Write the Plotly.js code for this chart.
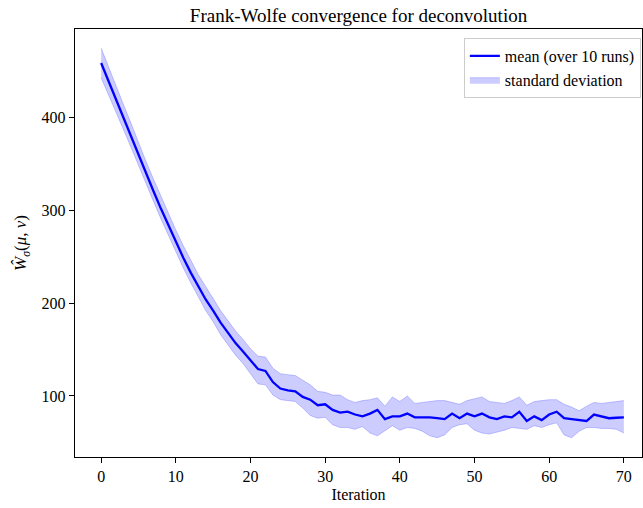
<!DOCTYPE html>
<html>
<head>
<meta charset="utf-8">
<script src="https://cdn.plot.ly/plotly-3.0.1.min.js"></script>
<style>html,body{margin:0;padding:0;background:#fff;}</style>
</head>
<body>
<div id="chart" style="width:643px;height:508px;"></div>
<script>
const iterations = Array.from({length: 71}, (_, i) => i);
const meanValues = [459, 439, 419, 399, 379, 359, 340, 321, 302, 284,
  266, 249, 233, 218, 204, 192, 179, 168, 157, 148,
  138, 129, 127, 115, 108, 106, 105, 99, 96, 90,
  91, 85, 82, 83, 80, 78, 81, 85, 75, 78,
  78, 81, 77, 77, 77, 76, 75, 81, 76, 81,
  78, 81, 77, 75, 78, 77, 83, 73, 78, 74,
  80, 83, 76, 75, 74, 73, 80, 78, 76, 76.5, 77];
const upperValues = [475, 454, 434, 414, 394, 373, 353, 334, 315, 297,
  279, 262, 246, 231, 218, 205, 192, 181, 170, 161,
  151, 143, 142, 130, 124, 123, 122, 117, 112, 105,
  104, 101, 101, 96, 93, 95, 96, 98, 89, 99,
  94, 100, 92, 93, 94, 95, 95, 93, 91, 95,
  97, 99, 94, 93, 92, 95, 99, 90, 94, 95,
  96, 96, 91, 88, 84, 89, 93, 92, 93, 94, 95];
const lowerValues = [443, 425, 406, 387, 368, 348, 329, 310, 291, 273,
  255, 238, 222, 207, 192, 180, 166, 155, 144, 135,
  124, 113, 112, 101, 96, 95, 94, 87, 79, 76,
  77, 69, 66, 66, 64, 67, 60, 57, 63, 68,
  63, 66, 65, 62, 57, 55, 58, 66, 69, 70,
  63, 60, 59, 61, 63, 66, 65, 64, 68, 66,
  69, 71, 58, 55, 62, 66, 66, 65, 65, 64, 60];
const xTicks = [0, 10, 20, 30, 40, 50, 60, 70];
const yTicks = [100, 200, 300, 400];

const serif = "Liberation Serif, DejaVu Serif, serif";

const traces = [
  {x: iterations, y: lowerValues, type: 'scatter', mode: 'lines',
   line: {color: 'rgba(0,0,255,0.2)', width: 1}, showlegend: false, hoverinfo: 'skip'},
  {x: iterations, y: upperValues, type: 'scatter', mode: 'lines', fill: 'tonexty',
   fillcolor: 'rgba(0,0,255,0.2)', line: {color: 'rgba(0,0,255,0.2)', width: 1},
   name: 'standard deviation', legendrank: 2},
  {x: iterations, y: meanValues, type: 'scatter', mode: 'lines',
   line: {color: '#0000ff', width: 2.3}, name: 'mean (over 10 runs)', legendrank: 1}
];

const layout = {
  width: 643, height: 508,
  margin: {l: 75, r: 1, t: 29, b: 51},
  paper_bgcolor: '#fff', plot_bgcolor: '#fff',
  font: {family: serif, size: 16, color: '#000'},
  title: {text: 'Frank-Wolfe convergence for deconvolution', font: {family: serif, size: 19, color: '#000'},
          xref: 'paper', x: 0.5, xanchor: 'center', yref: 'container', y: 0.97, yanchor: 'middle'},
  xaxis: {range: [-3.5, 72.43], tickvals: xTicks, ticks: 'outside', ticklen: 5, tickwidth: 1, tickcolor: '#000',
          showline: true, linecolor: '#000', linewidth: 1.2, mirror: true, showgrid: false, zeroline: false,
          tickfont: {family: serif, size: 16},
          title: {text: 'Iteration', font: {family: serif, size: 16}, standoff: 4}},
  yaxis: {range: [34.2, 495.6], tickvals: yTicks, ticks: 'outside', ticklen: 5, tickwidth: 1, tickcolor: '#000',
          showline: true, linecolor: '#000', linewidth: 1.2, mirror: true, showgrid: false, zeroline: false,
          tickfont: {family: serif, size: 16},
          title: {text: '<i>Ŵ</i><sub><i>σ</i></sub>(<i>μ</i>, <i>ν</i>)', font: {family: serif, size: 17}, standoff: 10}},
  legend: {x: 0.998, xanchor: 'right', y: 0.979, yanchor: 'top', bgcolor: 'rgba(255,255,255,0.8)',
           bordercolor: '#cccccc', borderwidth: 1, font: {family: serif, size: 16}, traceorder: 'normal'},
  showlegend: true
};

Plotly.newPlot('chart', traces, layout, {displayModeBar: false, staticPlot: true});
</script>
</body>
</html>
